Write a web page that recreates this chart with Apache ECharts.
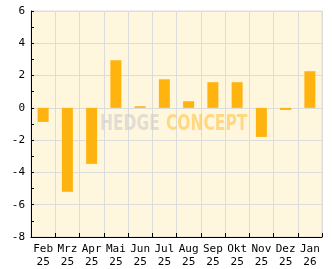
<!DOCTYPE html>
<html><head><meta charset="utf-8">
<script src="https://cdn.jsdelivr.net/npm/echarts@6/dist/echarts.min.js"></script>
<style>html,body{margin:0;padding:0;background:#fff}#c{width:332px;height:269px}</style>
</head><body><div id="c"></div>
<script>
const categories = ['Feb\n25','Mrz\n25','Apr\n25','Mai\n25','Jun\n25','Jul\n25','Aug\n25','Sep\n25','Okt\n25','Nov\n25','Dez\n25','Jan\n26'];
const values = [-0.87, -5.2, -3.47, 2.95, 0.1, 1.77, 0.41, 1.59, 1.59, -1.8, -0.13, 2.27];
const yMin = -8, yMax = 6, yStep = 2;
const font = 'DejaVu Sans Mono';
const chart = echarts.init(document.getElementById('c'), null, {renderer:'canvas'});
chart.setOption({
  animation:false,
  backgroundColor:'#ffffff',
  grid:{left:31,right:10,top:11,bottom:32,show:true,backgroundColor:'#FFF6DE',borderColor:'#dcdcdc',borderWidth:1},
  xAxis:{type:'category',data:categories,boundaryGap:true,
    axisLine:{onZero:false,lineStyle:{color:'#000',width:1}},
    axisTick:{show:true,inside:true,length:4,lineStyle:{color:'#000'}},
    splitLine:{show:true,lineStyle:{color:'#dcdcdc',width:1}},
    axisLabel:{color:'#000',fontFamily:font,fontSize:11,lineHeight:13,margin:6,interval:0}},
  yAxis:{type:'value',min:yMin,max:yMax,interval:yStep,
    axisLine:{show:true,lineStyle:{color:'#000',width:1}},
    axisTick:{show:true,inside:true,length:3,lineStyle:{color:'#000'}},
    minorTick:{show:true,splitNumber:2,length:3,lineStyle:{color:'#000'}},
    splitLine:{show:true,lineStyle:{color:'#dcdcdc',width:1}},
    axisLabel:{color:'#000',fontFamily:font,fontSize:11,margin:6}},
  graphic:[
    {type:'text',x:100,y:114,scaleX:0.82,z:1,style:{text:'HEDGE',font:'bold 21px "DejaVu Sans Condensed"',fill:'rgba(200,200,200,0.55)'}},
    {type:'text',x:166,y:114,scaleX:0.82,z:1,style:{text:'CONCEPT',font:'bold 21px "DejaVu Sans Condensed"',fill:'rgba(255,200,80,0.65)'}}
  ],
  series:[{type:'bar',data:values,barWidth:11,itemStyle:{color:'#FFB30F'},z:3}]
});
</script></body></html>
